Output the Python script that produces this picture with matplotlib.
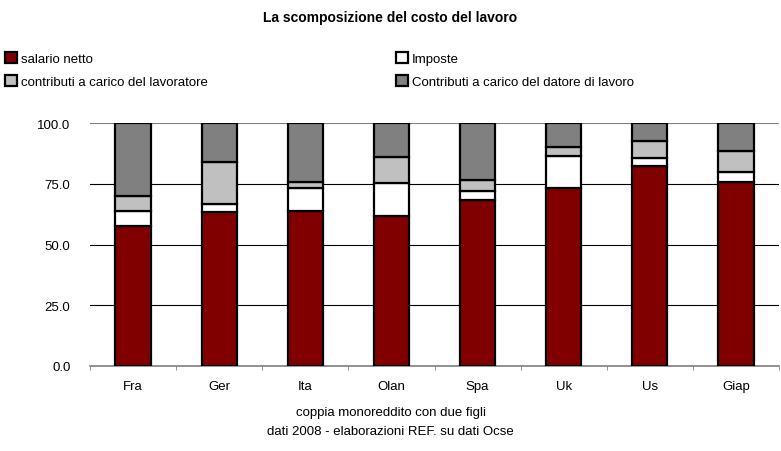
import matplotlib.pyplot as plt
import numpy as np

plt.rcParams['font.family'] = ['Liberation Sans', 'DejaVu Sans']

paesi = ['Fra', 'Ger', 'Ita', 'Olan', 'Spa', 'Uk', 'Us', 'Giap']
salario_netto = [57.7, 63.5, 63.9, 61.8, 68.4, 73.1, 82.4, 75.8]
imposte = [5.9, 3.1, 9.4, 13.5, 3.7, 13.3, 3.3, 3.9]
contrib_lavoratore = [6.4, 17.2, 2.5, 10.8, 4.5, 3.8, 7.0, 8.6]
contrib_datore = [30.0, 16.2, 24.2, 13.9, 23.4, 9.8, 7.3, 11.7]

serie = [
    ('salario netto', salario_netto, '#800000'),
    ('Imposte', imposte, '#ffffff'),
    ('contributi a carico del lavoratore', contrib_lavoratore, '#c0c0c0'),
    ('Contributi a carico del datore di lavoro', contrib_datore, '#808080'),
]

fig = plt.figure(figsize=(7.81, 4.52), dpi=100)
ax = fig.add_axes([90 / 781, 1 - 367 / 452, 689 / 781, 243 / 452])

x = np.arange(len(paesi))
base = np.zeros(len(paesi))
handles = {}
for nome, vals, col in serie:
    b = ax.bar(x, vals, bottom=base, width=0.41, color=col,
               edgecolor='black', linewidth=1.6, zorder=3, label=nome)
    handles[nome] = b
    base = base + np.array(vals)

ax.set_xlim(-0.5, len(paesi) - 0.5)
ax.set_ylim(0, 100)
ax.set_yticks([0, 25, 50, 75, 100])
ax.set_yticklabels(['0.0', '25.0', '50.0', '75.0', '100.0'], fontsize=9.5)
ax.set_xticks(x)
ax.set_xticklabels(paesi, fontsize=9.5)
ax.set_xticks(np.arange(len(paesi) + 1) - 0.5, minor=True)
ax.tick_params(axis='x', which='major', length=0, pad=10)
ax.tick_params(axis='x', which='minor', length=3, color='#808080')
ax.tick_params(axis='y', length=0, pad=14)
ax.grid(axis='y', color='black', linewidth=0.8, zorder=0)
# la linea a 100 nell'originale e' grigia
ax.get_ygridlines()[-1].set_color('#808080')
for s in ['left', 'right', 'top']:
    ax.spines[s].set_visible(False)
ax.spines['bottom'].set_color('#808080')
ax.spines['bottom'].set_linewidth(1.2)

fig.text(0.5, 1 - 18 / 452, 'La scomposizione del costo del lavoro',
         ha='center', va='center', fontsize=10, fontweight='bold')

ordine = ['salario netto', 'contributi a carico del lavoratore',
          'Imposte', 'Contributi a carico del datore di lavoro']
fig.legend([handles[n] for n in ordine], ordine, ncol=2,
           loc='upper left', bbox_to_anchor=(5 / 781, 1 - 53 / 452),
           frameon=False, fontsize=9.5, handlelength=0.9, handleheight=0.9,
           handletextpad=0.3, columnspacing=14.3, labelspacing=0.75,
           borderaxespad=0, borderpad=0)

fig.text(0.5, 1 - 413 / 452, 'coppia monoreddito con due figli',
         ha='center', va='center', fontsize=9.5)
fig.text(0.5, 1 - 432 / 452, 'dati 2008 - elaborazioni REF. su dati Ocse',
         ha='center', va='center', fontsize=9.5)

fig.savefig('out.png', dpi=100)
